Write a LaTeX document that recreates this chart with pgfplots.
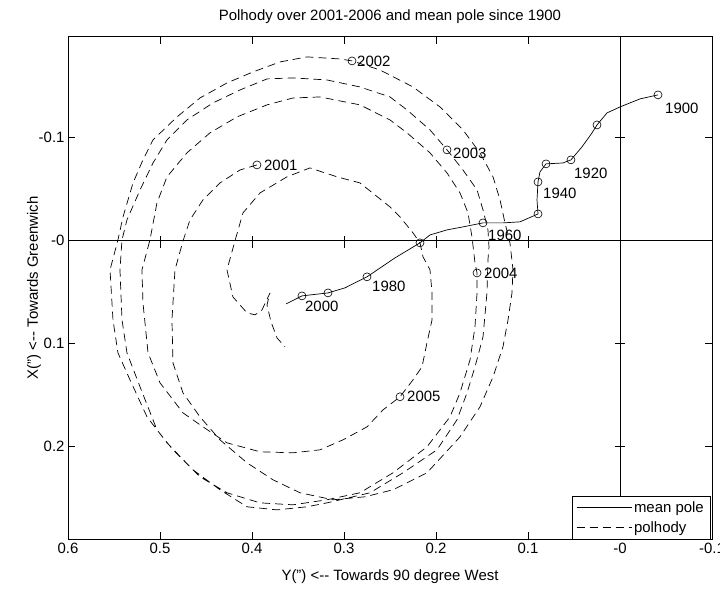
\documentclass[border=0pt]{standalone}
\usepackage{fontspec}
\setmainfont{Liberation Sans}
\usepackage{pgfplots}
\pgfplotsset{compat=1.18}
\usepackage{pgfplotstable}
\newcommand{\fs}{\fontsize{15}{18}\selectfont}
\newcommand{\dq}{\char"22\relax}

\pgfplotstableread{
x y
-0.0413 -0.1413
-0.0217 -0.1374
0.0000 -0.1296
0.0141 -0.1238
0.0250 -0.1121
0.0304 -0.1044
0.0413 -0.0908
0.0533 -0.0782
0.0620 -0.0752
0.0804 -0.0743
0.0870 -0.0665
0.0891 -0.0568
0.0902 -0.0393
0.0891 -0.0257
0.1087 -0.0180
0.1272 -0.0170
0.1489 -0.0170
0.1707 -0.0131
0.1880 -0.0102
0.2065 -0.0053
0.2174 0.0024
0.2446 0.0170
0.2750 0.0354
0.2989 0.0461
0.3174 0.0510
0.3457 0.0539
0.3630 0.0617
}\meanpole

\pgfplotstableread{
x y
-0.0413 -0.1413
0.0250 -0.1121
0.0533 -0.0782
0.0804 -0.0743
0.0891 -0.0568
0.0891 -0.0257
0.1489 -0.0170
0.2174 0.0024
0.2750 0.0354
0.3174 0.0510
0.3457 0.0539
}\decades

\pgfplotstableread{
x y
0.3946 -0.0733
0.4130 -0.0684
0.4348 -0.0558
0.4533 -0.0393
0.4674 -0.0199
0.4750 0.0005
0.4837 0.0286
0.4870 0.0772
0.4859 0.1189
0.4750 0.1481
0.4565 0.1714
0.4348 0.1937
0.4054 0.2160
0.3772 0.2325
0.3478 0.2451
0.3120 0.2519
0.2772 0.2490
0.2467 0.2422
0.2098 0.2257
0.1739 0.1908
0.1522 0.1617
0.1380 0.1325
0.1272 0.1034
0.1217 0.0772
0.1174 0.0510
0.1163 0.0286
0.1196 0.0024
0.1250 -0.0170
0.1304 -0.0393
0.1380 -0.0617
0.1522 -0.0850
0.1707 -0.1073
0.1957 -0.1296
0.2250 -0.1490
0.2609 -0.1655
0.2913 -0.1743
0.3043 -0.1762
0.3402 -0.1782
0.3696 -0.1733
0.3989 -0.1636
0.4272 -0.1529
0.4565 -0.1383
0.4815 -0.1199
0.5076 -0.0976
0.5185 -0.0782
0.5293 -0.0558
0.5402 -0.0228
0.5457 -0.0005
0.5543 0.0286
0.5511 0.0772
0.5457 0.1092
0.5326 0.1354
0.5141 0.1714
0.4924 0.1966
0.4641 0.2228
0.4348 0.2422
0.4054 0.2587
0.3728 0.2617
0.3402 0.2587
0.3185 0.2549
0.2717 0.2451
0.2359 0.2257
0.1989 0.2034
0.1772 0.1743
0.1663 0.1481
0.1576 0.1228
0.1489 0.0937
0.1446 0.0510
0.1435 0.0189
0.1424 0.0063
0.1435 -0.0102
0.1489 -0.0296
0.1554 -0.0490
0.1707 -0.0684
0.1880 -0.0879
0.2065 -0.1073
0.2315 -0.1267
0.2500 -0.1393
0.2826 -0.1490
0.3185 -0.1558
0.3554 -0.1578
0.3837 -0.1568
0.4130 -0.1461
0.4424 -0.1335
0.4707 -0.1170
0.4924 -0.0976
0.5076 -0.0752
0.5217 -0.0490
0.5359 -0.0199
0.5413 -0.0005
0.5435 0.0286
0.5413 0.0772
0.5359 0.1092
0.5217 0.1422
0.5033 0.1840
0.4859 0.2034
0.4565 0.2296
0.4272 0.2451
0.3913 0.2549
0.3554 0.2568
0.3185 0.2519
0.2826 0.2451
0.2467 0.2257
0.2098 0.2005
0.1848 0.1714
0.1739 0.1481
0.1630 0.1160
0.1576 0.0840
0.1554 0.0510
0.1554 0.0316
0.1576 0.0218
0.1609 -0.0034
0.1652 -0.0267
0.1739 -0.0461
0.1880 -0.0655
0.2065 -0.0850
0.2315 -0.1044
0.2500 -0.1170
0.2826 -0.1316
0.3261 -0.1393
0.3554 -0.1383
0.3837 -0.1316
0.4163 -0.1199
0.4457 -0.1044
0.4707 -0.0850
0.4924 -0.0617
0.5033 -0.0364
0.5109 -0.0005
0.5196 0.0286
0.5185 0.0607
0.5130 0.1092
0.5000 0.1383
0.4750 0.1675
0.4533 0.1811
0.4272 0.1966
0.3913 0.2053
0.3554 0.2063
0.3261 0.2034
0.3011 0.1937
0.2750 0.1811
0.2576 0.1646
0.2391 0.1519
0.2250 0.1354
0.2152 0.1228
0.2098 0.0995
0.2043 0.0772
0.2043 0.0510
0.2065 0.0286
0.2141 0.0160
0.2174 0.0024
0.2250 -0.0073
0.2391 -0.0228
0.2500 -0.0325
0.2826 -0.0558
0.3076 -0.0617
0.3370 -0.0704
0.3620 -0.0617
0.3913 -0.0461
0.4098 -0.0267
0.4185 0.0005
0.4272 0.0286
0.4207 0.0549
0.4054 0.0704
0.3967 0.0723
0.3891 0.0675
0.3804 0.0510
0.3837 0.0626
0.3793 0.0791
0.3728 0.0947
0.3641 0.1034
}\polhody

\pgfplotstableread{
x y
0.3946 -0.0733
0.2913 -0.1743
0.1880 -0.0879
0.1554 0.0316
0.2391 0.1519
}\years

\begin{document}
\begin{tikzpicture}[font=\fs]
\begin{axis}[
  scale only axis,
  width=644bp, height=502.5bp,
  x dir=reverse, y dir=reverse,
  xmin=-0.1, xmax=0.6, ymin=-0.198, ymax=0.29,
  xtick={-0.1,0,0.1,0.2,0.3,0.4,0.5,0.6},
  xticklabels={-0.1,-0,0.1,0.2,0.3,0.4,0.5,0.6},
  ytick={-0.1,0,0.1,0.2},
  yticklabels={-0.1,-0,0.1,0.2},
  xtick pos=both, ytick pos=both,
  tick align=inside,
  major tick length=7bp,
  tick style={black, line width=0.6bp},
  axis line style={black, line width=0.6bp},
  tick label style={font=\fs},
  xticklabel style={yshift=-1bp},
  title={Polhody over 2001-2006 and mean pole since 1900},
  title style={font=\fs, at={(0.5,1)}, anchor=base, yshift=10.5bp},
  xlabel={Y(\dq) <-{}- Towards 90 degree West},
  xlabel style={font=\fs, at={(0.5,0)}, anchor=base, yshift=-41bp},
  ylabel={X(\dq) <-{}- Towards Greenwich},
  ylabel style={font=\fs, at={(-0.0466,0.5)}, anchor=base},
  legend style={at={(1,0)}, anchor=south east, xshift=-2bp, yshift=0bp,
    draw=black, fill=white, font=\fs, inner xsep=4bp, inner ysep=3bp,
    row sep=4bp, legend cell align=left,
    /tikz/every even column/.append style={column sep=3bp}},
  legend image code/.code={\draw[#1] (0bp,0bp) -- (55bp,0bp);},
  clip=false,
]
\draw[black, line width=0.6bp] (axis cs:-0.1,0) -- (axis cs:0.6,0);
\draw[black, line width=0.6bp] (axis cs:0,-0.198) -- (axis cs:0,0.29);
\draw[black, line width=0.6bp] ([yshift=4bp]axis cs:0.1,0) -- ([yshift=-8bp]axis cs:0.1,0);
\draw[black, line width=0.6bp] ([yshift=4bp]axis cs:0.2,0) -- ([yshift=-8bp]axis cs:0.2,0);
\draw[black, line width=0.6bp] ([yshift=4bp]axis cs:0.3,0) -- ([yshift=-8bp]axis cs:0.3,0);
\draw[black, line width=0.6bp] ([yshift=4bp]axis cs:0.4,0) -- ([yshift=-8bp]axis cs:0.4,0);
\draw[black, line width=0.6bp] ([yshift=4bp]axis cs:0.5,0) -- ([yshift=-8bp]axis cs:0.5,0);
\draw[black, line width=0.6bp] ([xshift=-5bp]axis cs:0,-0.1) -- ([xshift=5bp]axis cs:0,-0.1);
\draw[black, line width=0.6bp] ([xshift=-5bp]axis cs:0,0.1) -- ([xshift=5bp]axis cs:0,0.1);
\draw[black, line width=0.6bp] ([xshift=-5bp]axis cs:0,0.2) -- ([xshift=5bp]axis cs:0,0.2);
\addplot[black, line width=0.7bp, solid] table {\meanpole};
\addlegendentry{mean pole}
\addplot[black, line width=0.7bp, dash pattern=on 8bp off 5bp] table {\polhody};
\addlegendentry{polhody}
\addplot[only marks, mark=o, mark size=4bp, black, mark options={solid, line width=0.6bp}, forget plot] table {\decades};
\addplot[only marks, mark=o, mark size=4bp, black, mark options={solid, line width=0.6bp}, forget plot] table {\years};
\node[anchor=west, inner sep=0pt, xshift=7bp, yshift=-13bp] at (axis cs:-0.0413,-0.1413) {1900};
\node[anchor=west, inner sep=0pt, xshift=3bp, yshift=-13bp] at (axis cs:0.0533,-0.0782) {1920};
\node[anchor=west, inner sep=0pt, xshift=5bp, yshift=-11bp] at (axis cs:0.0891,-0.0568) {1940};
\node[anchor=west, inner sep=0pt, xshift=5bp, yshift=-12bp] at (axis cs:0.1489,-0.0170) {1960};
\node[anchor=west, inner sep=0pt, xshift=5bp, yshift=-10bp] at (axis cs:0.2750,0.0354) {1980};
\node[anchor=west, inner sep=0pt, xshift=3bp, yshift=-10bp] at (axis cs:0.3457,0.0539) {2000};
\node[anchor=west, inner sep=0pt, xshift=7bp] at (axis cs:0.3946,-0.0733) {2001};
\node[anchor=west, inner sep=0pt, xshift=5bp] at (axis cs:0.2913,-0.1743) {2002};
\node[anchor=west, inner sep=0pt, xshift=6bp, yshift=-3bp] at (axis cs:0.1880,-0.0879) {2003};
\node[anchor=west, inner sep=0pt, xshift=7bp] at (axis cs:0.1554,0.0316) {2004};
\node[anchor=west, inner sep=0pt, xshift=7bp] at (axis cs:0.2391,0.1519) {2005};
\end{axis}
\pgfresetboundingbox
\useasboundingbox ([xshift=-68bp,yshift=-52bp]current axis.south west) rectangle ([xshift=8bp,yshift=36.5bp]current axis.north east);
\end{tikzpicture}
\end{document}
